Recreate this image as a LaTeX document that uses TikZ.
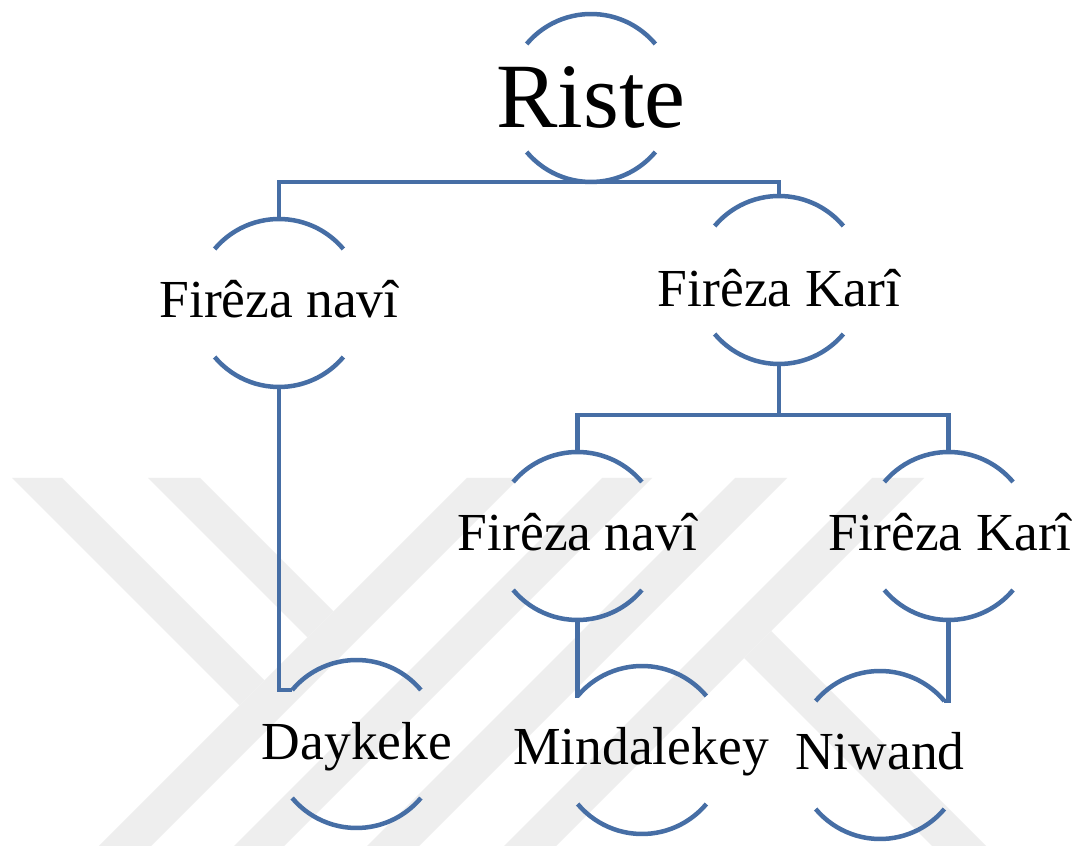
\documentclass[tikz,border=0pt]{standalone}
\usepackage{fontspec}
\setmainfont{Liberation Serif}
\definecolor{edge}{RGB}{70,110,165}
\definecolor{wm}{RGB}{238,238,238}
\tikzset{
  ring/.style={circle, minimum size=168pt, inner sep=0pt, outer sep=0pt},
  wire/.style={draw=edge, line width=4.5pt},
  lbl/.style={anchor=base, inner sep=0pt, font=\fontsize{53.5pt}{60pt}\selectfont},
  biglbl/.style={anchor=base, inner sep=0pt, font=\fontsize{92pt}{100pt}\selectfont},
  wmark/.style={fill=wm, draw=none}
}
\newcommand\capcup[1]{%
  \draw[wire] (#1.140) arc[start angle=140,end angle=40,radius=84pt];
  \draw[wire] (#1.220) arc[start angle=220,end angle=320,radius=84pt];}
\begin{document}
\begin{tikzpicture}[x=1pt,y=1pt]
\fill[white] (0,0) rectangle (1074,846);
\useasboundingbox (0,0) rectangle (1074,846);
% faint watermark
\fill[wmark] (12,368) -- (62,368) -- (264.5,165.5) -- (239.5,140.5) -- cycle;
\fill[wmark] (148,368) -- (200,368) -- (333.5,234.5) -- (307.5,208.5) -- cycle;
\fill[wmark] (467,368) -- (519,368) -- (151,0) -- (99,0) -- cycle;
\fill[wmark] (602,368) -- (652,368) -- (284,0) -- (234,0) -- cycle;
\fill[wmark] (735,368) -- (787,368) -- (419,0) -- (367,0) -- cycle;
\fill[wmark] (872,368) -- (924,368) -- (556,0) -- (504,0) -- cycle;
\fill[wmark] (744,188) -- (771,215) -- (986,0) -- (932,0) -- cycle;
% nodes
\node[ring] (riste) at (591,748) {};
\node[ring] (fn1) at (279,543) {};
\node[ring] (fk1) at (779,566) {};
\node[ring] (fn2) at (577.5,310) {};
\node[ring] (fk2) at (948.7,310) {};
\node[ring] (dk) at (356.5,102) {};
\node[ring] (mk) at (642,96) {};
\node[ring] (nw) at (880,91) {};
\coordinate (j2) at (779,431);
\foreach \n in {riste,fn1,fk1,fn2,fk2,dk,mk,nw}{\capcup{\n}}
% labels
\node[biglbl] (risteT) at (591,718) {Riste};
\node[lbl] (fn1T) at (279,528) {Firêza navî};
\node[lbl] (fk1T) at (779,539) {Firêza Karî};
\node[lbl] (fn2T) at (577.5,295) {Firêza navî};
\node[lbl] (fk2T) at (950,295) {Firêza Karî};
\node[lbl] (dkT) at (357,86) {Daykeke};
\node[lbl] (mkT) at (641,81) {Mindalekey};
\node[lbl] (nwT) at (880,76) {Niwand};
% connectors
\draw[wire] (fn1.north) |- (riste.south) -| (fk1.north);
\draw[wire] (fk1.south) -- (j2);
\draw[wire] (fn2.north) |- (j2) -| (fk2.north);
\draw[wire] (fn1.south) |- (dk.140);
\draw[wire] (fn2.south) |- (mk.140);
\draw[wire] (fk2.south) |- (nw.40);
\end{tikzpicture}
\end{document}
